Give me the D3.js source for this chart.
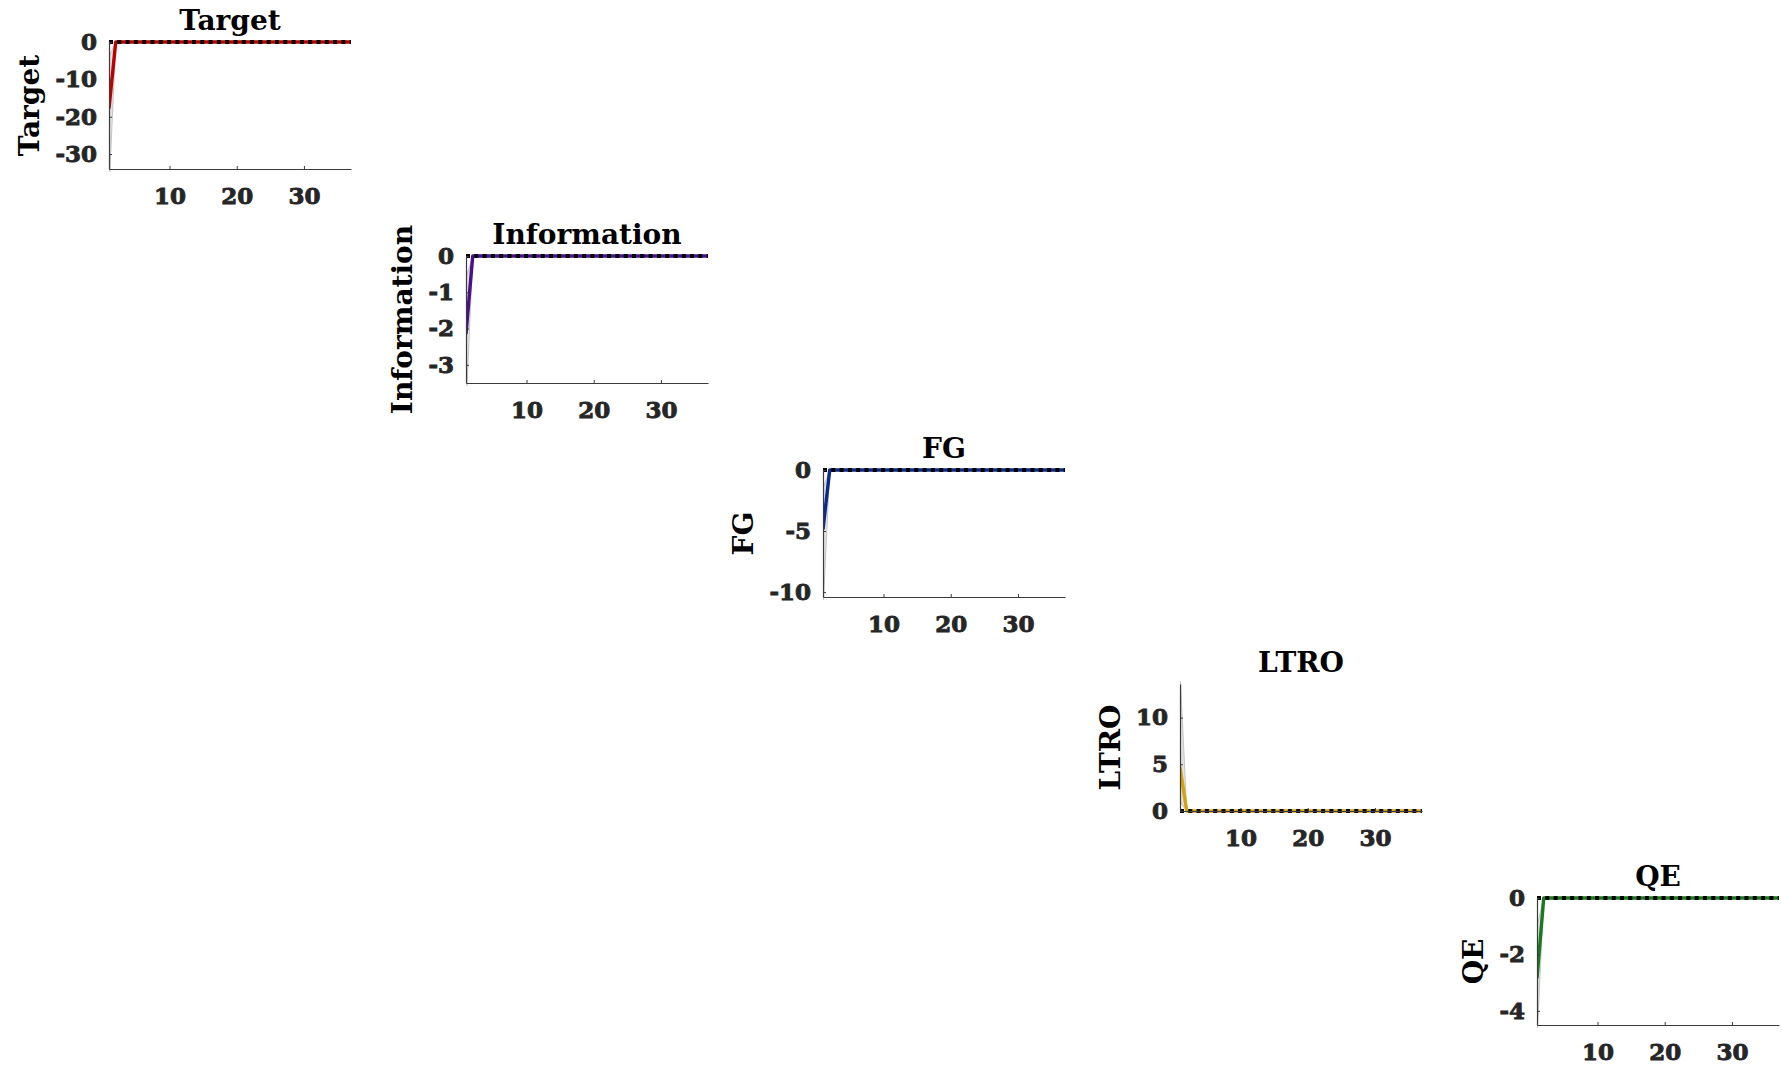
<!DOCTYPE html>
<html>
<head>
<meta charset="utf-8">
<script src="https://cdn.jsdelivr.net/npm/d3@7"></script>
<style>
  body { margin: 0; background: #ffffff; }
  svg { display: block; }
  text { font-family: "DejaVu Serif", serif; font-weight: bold; }
</style>
</head>
<body>
<svg id="chart" width="1782" height="1070"></svg>
<script>
// Impulse responses of each policy shock to itself, 37 periods.
const horizon = [1,2,3,4,5,6,7,8,9,10,11,12,13,14,15,16,17,18,19,20,21,22,23,24,25,26,27,28,29,30,31,32,33,34,35,36,37];
const shocks = ["Target", "Information", "FG", "LTRO", "QE"];
const lineColors = ["#c00000", "#4a0f8f", "#0a2a8c", "#d6a20e", "#1a7a1e"];

const yDomains = [[-34, 0], [-3.5, 0], [-10.4, 0], [0, 13.6], [-4.5, 0]];
const yTickValues = [[0, -10, -20, -30], [0, -1, -2, -3], [0, -5, -10], [0, 5, 10], [0, -2, -4]];
const xTickValues = [10, 20, 30];

// point responses
const irfTarget = [-17.8,0,0,0,0,0,0,0,0,0,0,0,0,0,0,0,0,0,0,0,0,0,0,0,0,0,0,0,0,0,0,0,0,0,0,0,0];
const irfInformation = [-2.15,0,0,0,0,0,0,0,0,0,0,0,0,0,0,0,0,0,0,0,0,0,0,0,0,0,0,0,0,0,0,0,0,0,0,0,0];
const irfFG = [-4.85,0,0,0,0,0,0,0,0,0,0,0,0,0,0,0,0,0,0,0,0,0,0,0,0,0,0,0,0,0,0,0,0,0,0,0,0];
const irfLTRO = [4.7,0,0,0,0,0,0,0,0,0,0,0,0,0,0,0,0,0,0,0,0,0,0,0,0,0,0,0,0,0,0,0,0,0,0,0,0];
const irfQE = [-2.85,0,0,0,0,0,0,0,0,0,0,0,0,0,0,0,0,0,0,0,0,0,0,0,0,0,0,0,0,0,0,0,0,0,0,0,0];

// credible band, upper and lower bounds
const upTarget = [-4,0,0,0,0,0,0,0,0,0,0,0,0,0,0,0,0,0,0,0,0,0,0,0,0,0,0,0,0,0,0,0,0,0,0,0,0];
const loTarget = [-40,0,0,0,0,0,0,0,0,0,0,0,0,0,0,0,0,0,0,0,0,0,0,0,0,0,0,0,0,0,0,0,0,0,0,0,0];
const upInformation = [-0.6,0,0,0,0,0,0,0,0,0,0,0,0,0,0,0,0,0,0,0,0,0,0,0,0,0,0,0,0,0,0,0,0,0,0,0,0];
const loInformation = [-4.2,0,0,0,0,0,0,0,0,0,0,0,0,0,0,0,0,0,0,0,0,0,0,0,0,0,0,0,0,0,0,0,0,0,0,0,0];
const upFG = [-1.5,0,0,0,0,0,0,0,0,0,0,0,0,0,0,0,0,0,0,0,0,0,0,0,0,0,0,0,0,0,0,0,0,0,0,0,0];
const loFG = [-11.5,0,0,0,0,0,0,0,0,0,0,0,0,0,0,0,0,0,0,0,0,0,0,0,0,0,0,0,0,0,0,0,0,0,0,0,0];
const upLTRO = [15,0,0,0,0,0,0,0,0,0,0,0,0,0,0,0,0,0,0,0,0,0,0,0,0,0,0,0,0,0,0,0,0,0,0,0,0];
const loLTRO = [1,0,0,0,0,0,0,0,0,0,0,0,0,0,0,0,0,0,0,0,0,0,0,0,0,0,0,0,0,0,0,0,0,0,0,0,0];
const upQE = [-1,0,0,0,0,0,0,0,0,0,0,0,0,0,0,0,0,0,0,0,0,0,0,0,0,0,0,0,0,0,0,0,0,0,0,0,0];
const loQE = [-5,0,0,0,0,0,0,0,0,0,0,0,0,0,0,0,0,0,0,0,0,0,0,0,0,0,0,0,0,0,0,0,0,0,0,0,0];
const zeroLine = [0,0,0,0,0,0,0,0,0,0,0,0,0,0,0,0,0,0,0,0,0,0,0,0,0,0,0,0,0,0,0,0,0,0,0,0,0];

const responses = [irfTarget, irfInformation, irfFG, irfLTRO, irfQE];
const uppers = [upTarget, upInformation, upFG, upLTRO, upQE];
const lowers = [loTarget, loInformation, loFG, loLTRO, loQE];

// 5x5 subplot grid, only the diagonal cells are drawn
const gridLeft = 109, gridTop = 42, stepX = 357, stepY = 214;
const panelW = 242, panelH = 127;

const svg = d3.select("#chart");

shocks.forEach((name, i) => {
  const g = svg.append("g")
    .attr("transform", `translate(${gridLeft + i * stepX},${gridTop + i * stepY})`);

  const x = d3.scaleLinear().domain([1, 37]).range([0, panelW]);
  const y = d3.scaleLinear().domain(yDomains[i]).range([panelH, 0]);

  const clipId = "clip" + i;
  g.append("clipPath").attr("id", clipId)
    .append("rect").attr("x", 0).attr("y", -3).attr("width", panelW + 2).attr("height", panelH + 6);

  const plot = g.append("g").attr("clip-path", `url(#${clipId})`);

  const rows = horizon.map((t, k) => ({ t, v: responses[i][k], lo: lowers[i][k], hi: uppers[i][k], z: zeroLine[k] }));

  // band
  plot.append("path").datum(rows)
    .attr("fill", "#e3e3e3")
    .attr("d", d3.area().x(d => x(d.t)).y0(d => y(d.lo)).y1(d => y(d.hi)));
  ["lo", "hi"].forEach(key => {
    plot.append("path").datum(rows)
      .attr("fill", "none").attr("stroke", "#c4c4c4").attr("stroke-width", 1)
      .attr("d", d3.line().x(d => x(d.t)).y(d => y(d[key])));
  });

  // response
  plot.append("path").datum(rows)
    .attr("fill", "none").attr("stroke", lineColors[i]).attr("stroke-width", 3.4)
    .attr("stroke-linejoin", "round")
    .attr("d", d3.line().x(d => x(d.t)).y(d => y(d.v)));

  // axes
  const yAxis = g.append("g")
    .call(d3.axisLeft(y).tickValues(yTickValues[i]).tickSizeInner(-3).tickSizeOuter(0).tickPadding(12).tickFormat(d3.format("d")));
  const xAxis = g.append("g").attr("transform", `translate(0,${panelH})`)
    .call(d3.axisBottom(x).tickValues(xTickValues).tickSizeInner(-3).tickSizeOuter(0).tickPadding(19).tickFormat(d3.format("d")));
  [yAxis, xAxis].forEach(a => {
    a.select(".domain").attr("stroke", "#3a3a3a").attr("stroke-width", 1.2);
    a.selectAll(".tick line").attr("stroke", "#3a3a3a");
    a.selectAll(".tick text")
      .attr("fill", "#262626").attr("stroke", "#262626").attr("stroke-width", 0.9)
      .style("font-size", "23px");
  });
  yAxis.selectAll(".tick text").text(d => d < 0 ? "-" + Math.abs(d) : d);

  // zero reference line, dotted, drawn over the response
  plot.append("path").datum(rows)
    .attr("fill", "none").attr("stroke", "#000").attr("stroke-width", 4.2)
    .attr("stroke-dasharray", "4,4.3")
    .attr("d", d3.line().x(d => x(d.t)).y(d => y(d.z)));

  // title
  g.append("text")
    .attr("x", panelW / 2).attr("y", -12)
    .attr("text-anchor", "middle").attr("fill", "#000")
    .style("font-size", "28px")
    .text(name);

  // y label, placed left of the widest tick label
  let minX = 0;
  yAxis.selectAll(".tick text").each(function () {
    const b = this.getBBox();
    minX = Math.min(minX, b.x);
  });
  g.append("text")
    .attr("transform", `translate(${minX - 16},${panelH / 2}) rotate(-90)`)
    .attr("text-anchor", "middle").attr("fill", "#000")
    .style("font-size", "28px")
    .text(name);
});
</script>
</body>
</html>
